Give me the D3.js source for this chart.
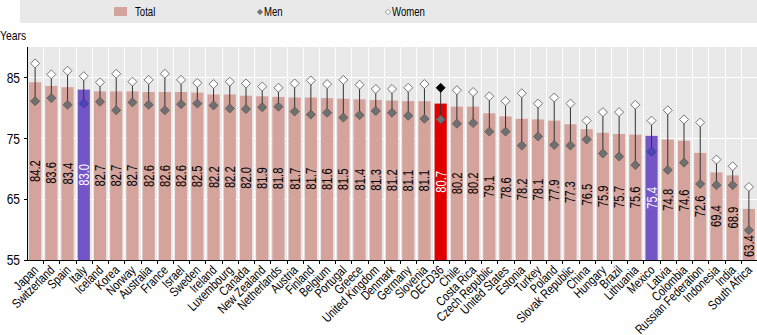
<!DOCTYPE html>
<meta charset="utf-8">
<style>
body { margin: 0; background: #fff; }
text { font-family: "Liberation Sans", Arial, sans-serif; }
.axis path, .axis line { stroke: #000; shape-rendering: crispEdges; }
.axis text { font-size: 13px; fill: #000; }
.grid line { stroke: #fff; stroke-width: 1px; shape-rendering: crispEdges; }
.grid path { stroke-width: 0; }
</style>
<body>
<script src="https://d3js.org/d3.v7.min.js"></script>
<script>

// life expectancy at birth, years
var countries = ["Japan","Switzerland","Spain","Italy","Iceland","Korea","Norway","Australia","France","Israel",
  "Sweden","Ireland","Luxembourg","Canada","New Zealand","Netherlands","Austria","Finland","Belgium","Portugal",
  "Greece","United Kingdom","Denmark","Germany","Slovenia","OECD36","Chile","Costa Rica","Czech Republic","United States",
  "Estonia","Turkey","Poland","Slovak Republic","China","Hungary","Brazil","Lithuania","Mexico","Latvia",
  "Colombia","Russian Federation","Indonesia","India","South Africa"];

var total = [84.2,83.6,83.4,83.0,82.7,82.7,82.7,82.6,82.6,82.6,
  82.5,82.2,82.2,82.0,81.9,81.8,81.7,81.7,81.6,81.5,
  81.4,81.3,81.2,81.1,81.1,80.7,80.2,80.2,79.1,78.6,
  78.2,78.1,77.9,77.3,76.5,75.9,75.7,75.6,75.4,74.8,
  74.6,72.6,69.4,68.9,63.4];

var men = [81.1,81.6,80.5,80.7,81.0,79.6,80.9,80.5,79.6,80.6,
  80.7,80.4,79.9,79.8,80.1,80.2,79.4,78.9,79.2,78.4,
  78.8,79.5,79.2,78.7,78.2,78.1,77.4,77.5,76.1,76.1,
  73.8,75.3,73.9,73.8,74.8,72.5,72.0,70.6,72.8,69.8,
  71.0,67.5,67.3,67.3,59.9];

var women = [87.3,85.5,86.1,85.2,84.2,85.6,84.3,84.6,85.6,84.6,
  84.1,83.9,84.3,84.0,83.5,83.3,84.0,84.5,83.9,84.6,
  83.8,83.1,83.1,83.3,83.9,83.3,82.9,82.6,81.9,81.1,
  82.4,80.7,81.7,80.7,77.9,79.3,79.3,80.5,77.9,79.6,
  78.1,77.6,71.5,70.4,67.0];

var yTicks = [55, 65, 75, 85];
var purple = ["Italy", "Mexico"];
var oecd = "OECD36";

var W = 757, H = 335;
var pL = 27, pR = 757, pT = 47, pB = 260;
var narrow = " scale(0.8,1)";   // squeeze text to a narrow face

var svg = d3.select("body").append("svg")
    .attr("width", W)
    .attr("height", H);

// legend strip
var leg = svg.append("g");
leg.append("rect").attr("x", 20).attr("y", 0).attr("width", 737).attr("height", 23).attr("fill", "#e9e9e9");
leg.append("rect").attr("x", 114).attr("y", 7).attr("width", 13).attr("height", 9).attr("fill", "#d4a39c");
leg.append("text").attr("transform", "translate(135,16)" + narrow).style("font-size", "12px").text("Total");
leg.append("path").attr("d", d3.symbol(d3.symbolDiamond2, 18)()).attr("transform", "translate(260,12)")
   .attr("fill", "#777").attr("stroke", "#555").attr("stroke-width", 0.6);
leg.append("text").attr("transform", "translate(264,16)" + narrow).style("font-size", "12px").text("Men");
leg.append("path").attr("d", d3.symbol(d3.symbolDiamond2, 18)()).attr("transform", "translate(388,12)")
   .attr("fill", "#fff").attr("stroke", "#555").attr("stroke-width", 0.6);
leg.append("text").attr("transform", "translate(392,16)" + narrow).style("font-size", "12px").text("Women");

svg.append("text").attr("transform", "translate(0,40)" + narrow).style("font-size", "13px").text("Years");

// scales
var x = d3.scaleBand().domain(countries).range([pL, pR]).paddingInner(0.25).paddingOuter(0.125);
var y = d3.scaleLinear().domain([55, 90]).range([pB, pT]);
var step = x.step();

// plot background
svg.append("rect").attr("x", pL).attr("y", pT).attr("width", pR - pL).attr("height", pB - pT)
   .attr("fill", "#e9e9e9");

// horizontal gridlines
svg.append("g").attr("class", "grid")
   .attr("transform", "translate(" + pL + ",0)")
   .call(d3.axisLeft(y).tickValues(yTicks.slice(1)).tickSize(-(pR - pL)).tickFormat(""));

// vertical gridlines between categories
svg.append("g").attr("class", "grid")
   .selectAll("line").data(d3.range(1, countries.length))
   .enter().append("line")
   .attr("x1", function(i) { return Math.round(pL + i * step) + 0.5; })
   .attr("x2", function(i) { return Math.round(pL + i * step) + 0.5; })
   .attr("y1", pT).attr("y2", pB);

var rows = countries.map(function(c, i) {
  return {name: c, total: total[i], men: men[i], women: women[i]};
});

function barColor(d) {
  if (d.name === oecd) return "#e00000";
  if (purple.indexOf(d.name) >= 0) return "#7455c8";
  return "#d4a39c";
}

// bars
svg.selectAll(".bar").data(rows).enter().append("rect")
   .attr("class", "bar")
   .attr("x", function(d) { return x(d.name); })
   .attr("width", x.bandwidth())
   .attr("y", function(d) { return y(d.total); })
   .attr("height", function(d) { return pB - y(d.total); })
   .attr("fill", barColor);

// value labels inside bars
var half = 11;
svg.selectAll(".val").data(rows).enter().append("text")
   .attr("class", "val")
   .attr("transform", function(d) {
     var cy = (y(d.total) + pB) / 2;
     var my = y(d.men);
     if (Math.abs(cy - my) < half + 4) cy = Math.min(my + half + 5, pB - 1 - half);
     return "translate(" + (x(d.name) + x.bandwidth() / 2 + 5) + "," + cy + ") rotate(-90)" + narrow;
   })
   .attr("text-anchor", "middle")
   .style("font-size", "14px")
   .attr("fill", function(d) { return barColor(d) === "#d4a39c" ? "#000" : "#fff"; })
   .text(function(d) { return d3.format(".1f")(d.total); });

// men-women range
var cx = function(d) { return x(d.name) + x.bandwidth() / 2; };
svg.selectAll(".rng").data(rows).enter().append("line")
   .attr("x1", cx).attr("x2", cx)
   .attr("y1", function(d) { return y(d.men); })
   .attr("y2", function(d) { return y(d.women); })
   .attr("stroke", "#333").attr("stroke-width", 1);

var diamond = d3.symbol(d3.symbolDiamond2, 52);

svg.selectAll(".men").data(rows).enter().append("path")
   .attr("d", diamond)
   .attr("transform", function(d) { return "translate(" + cx(d) + "," + y(d.men) + ")"; })
   .attr("fill", function(d) { return purple.indexOf(d.name) >= 0 ? "#4a45b8" : "#707070"; })
   .attr("stroke", function(d) { return purple.indexOf(d.name) >= 0 ? "#3a3590" : "#555"; })
   .attr("stroke-width", 0.8);

svg.selectAll(".women").data(rows).enter().append("path")
   .attr("d", diamond)
   .attr("transform", function(d) { return "translate(" + cx(d) + "," + y(d.women) + ")"; })
   .attr("fill", function(d) { return d.name === oecd ? "#000" : "#fff"; })
   .attr("stroke", function(d) { return d.name === oecd ? "#000" : "#555"; })
   .attr("stroke-width", 0.8);

// y axis
var ya = svg.append("g").attr("class", "axis")
   .attr("transform", "translate(" + pL + ",0)")
   .call(d3.axisLeft(y).tickValues(yTicks).tickSize(3).tickSizeOuter(0).tickPadding(5));
ya.select(".domain").attr("d", "M0.5," + pT + "V" + pB);
ya.selectAll(".tick text").style("font-size", "15px").attr("transform", "scale(0.8,1)").attr("x", -7 / 0.8);

// x axis with ticks at category boundaries
var xa = svg.append("g").attr("class", "axis");
xa.append("line").attr("x1", pL).attr("x2", pR).attr("y1", pB + 0.5).attr("y2", pB + 0.5);
xa.selectAll(".tk").data(d3.range(1, countries.length)).enter().append("line")
  .attr("x1", function(i) { return Math.round(pL + i * step) + 0.5; })
  .attr("x2", function(i) { return Math.round(pL + i * step) + 0.5; })
  .attr("y1", pB).attr("y2", pB + 4);
xa.selectAll(".lbl").data(countries).enter().append("text")
  .attr("transform", function(d) { return "translate(" + (x(d) + x.bandwidth() / 2 + 4) + "," + (pB + 11) + ") rotate(-45)" + narrow; })
  .attr("text-anchor", "end")
  .style("font-size", "13px")
  .text(function(d) { return d; });

</script>
</body>
